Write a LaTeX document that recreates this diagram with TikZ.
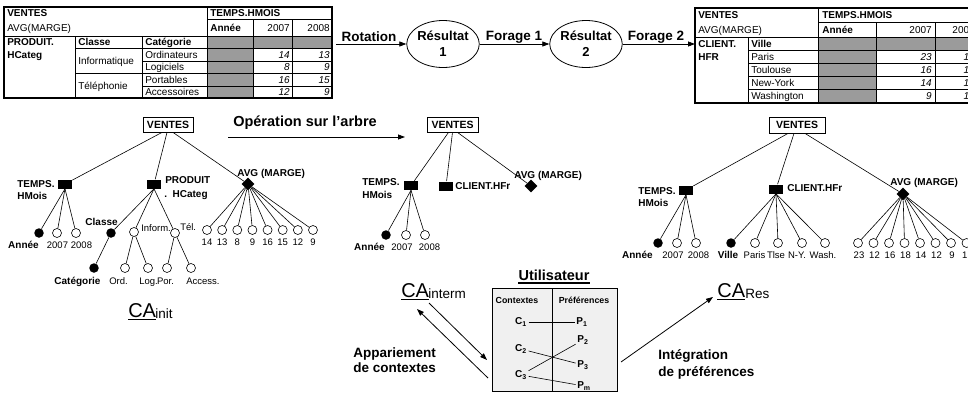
\documentclass[tikz,border=0pt]{standalone}
\usepackage{fontspec}
\setmainfont{Liberation Sans}
\usetikzlibrary{shapes.geometric,arrows.meta}
\definecolor{cellgray}{RGB}{155,155,155}
\definecolor{boxgray}{RGB}{240,240,240}
\tikzset{
  tb/.style={font=\fontsize{10}{12}\selectfont\bfseries, inner sep=0pt, anchor=base west},
  tr/.style={font=\fontsize{10}{12}\selectfont, inner sep=0pt, anchor=base west},
  tn/.style={font=\fontsize{10}{12}\selectfont\itshape, inner sep=0pt, anchor=base east},
  tre/.style={font=\fontsize{10}{12}\selectfont, inner sep=0pt, anchor=base east},
  fl/.style={font=\fontsize{13.5}{15}\selectfont\bfseries, inner sep=0pt},
  ell/.style={ellipse, draw, line width=0.8pt, minimum width=65pt, minimum height=47pt, inner sep=0pt, align=center, font=\fontsize{13}{16}\selectfont\bfseries},
  vbox/.style={draw, line width=0.8pt, minimum height=15pt, inner sep=0pt, font=\fontsize{10.5}{12}\selectfont\bfseries},
  sq/.style={fill=black, minimum width=14pt, minimum height=9pt, inner sep=0pt},
  dia/.style={diamond, fill=black, minimum width=13pt, minimum height=13pt, inner sep=0pt},
  oc/.style={circle, draw, fill=white, line width=0.6pt, minimum size=9pt, inner sep=0pt},
  bc/.style={circle, fill=black, minimum size=9.5pt, inner sep=0pt},
  lb/.style={font=\fontsize{10}{11}\selectfont\bfseries, inner sep=0pt, anchor=base west},
  lbc/.style={font=\fontsize{10}{11}\selectfont\bfseries, inner sep=0pt, anchor=base},
  ln/.style={font=\fontsize{9.5}{11}\selectfont, inner sep=0pt, anchor=base},
  lr/.style={font=\fontsize{9.5}{11}\selectfont, inner sep=0pt, anchor=base west},
  bigl/.style={font=\fontsize{13.5}{15}\selectfont\bfseries, inner sep=0pt, anchor=base west},
  cabig/.style={font=\fontsize{20}{22}\selectfont, inner sep=0pt, anchor=base west},
  casub/.style={font=\fontsize{13.5}{15}\selectfont, inner sep=0pt, anchor=base west},
  cp/.style={font=\fontsize{10}{12}\selectfont\bfseries, inner sep=1.5pt},
  hd/.style={font=\fontsize{8.8}{10}\selectfont\bfseries, inner sep=0pt, anchor=base},
  arr/.style={-{Triangle[length=7pt,width=5pt]}, line width=0.8pt},
}
\begin{document}
\begin{tikzpicture}[x=1pt,y=-1pt,line width=0.6pt]
\useasboundingbox (0,0) rectangle (968,400);
\fill[white] (0,0) rectangle (968,400);
\clip (0,0) rectangle (968,400);

% ---------------- left table ----------------
\fill[cellgray] (207,36) rectangle (253,98);
\fill[cellgray] (253,36) rectangle (332,48);
\draw (207,19) -- (332,19);
\draw (4,36) -- (332,36);
\draw (75,48) -- (332,48);
\draw (142,61) -- (332,61);
\draw (75,73) -- (332,73);
\draw (142,86) -- (332,86);
\draw (207,7) -- (207,98);
\draw (253,19) -- (253,98);
\draw (292,19) -- (292,98);
\draw (75,36) -- (75,98);
\draw (142,36) -- (142,98);
\draw[line width=1.2pt] (4,7) rectangle (332,98);
\node[tb] (lt1) at (7,16.5) {VENTES};
\node[tr] (lt2) at (7,31) {AVG(MARGE)};
\node[tb] (lt3) at (210,16.5) {TEMPS.HMOIS};
\node[tb] (lt4) at (210,31) {Année};
\node[tre] (lt5) at (290,31) {2007};
\node[tre] (lt6) at (330,31) {2008};
\node[tb] (lt7) at (7,45.5) {PRODUIT.};
\node[tb] (lt8) at (7,58) {HCateg};
\node[tb] (lt9) at (78,45.5) {Classe};
\node[tb] (lt10) at (145,45.5) {Catégorie};
\node[tr] (lt11) at (78,64.5) {Informatique};
\node[tr] (lt12) at (78,89.5) {Téléphonie};
\node[tr] (lt13) at (145,58) {Ordinateurs};
\node[tr] (lt14) at (145,70.5) {Logiciels};
\node[tr] (lt15) at (145,83) {Portables};
\node[tr] (lt16) at (145,95.5) {Accessoires};
\node[tn] (lv1) at (290,58) {14};   \node[tn] (lw1) at (330,58) {13};
\node[tn] (lv2) at (290,70.5) {8};  \node[tn] (lw2) at (330,70.5) {9};
\node[tn] (lv3) at (290,83) {16};   \node[tn] (lw3) at (330,83) {15};
\node[tn] (lv4) at (290,95.5) {12}; \node[tn] (lw4) at (330,95.5) {9};

% ---------------- right table ----------------
\fill[cellgray] (818,37) rectangle (876,103);
\fill[cellgray] (876,37) rectangle (1000,50);
\draw (818,22) -- (1000,22);
\draw (695,37) -- (1000,37);
\draw (748,50) -- (1000,50);
\draw (748,63) -- (1000,63);
\draw (748,76) -- (1000,76);
\draw (748,89) -- (1000,89);
\draw (818,8) -- (818,103);
\draw (876,22) -- (876,103);
\draw (935,22) -- (935,103);
\draw (748,37) -- (748,103);
\draw[line width=1.2pt] (695,8) rectangle (1000,103);
\node[tb] (rt1) at (698,18.6) {VENTES};
\node[tr] (rt2) at (698,33) {AVG(MARGE)};
\node[tb] (rt3) at (822,18.6) {TEMPS.HMOIS};
\node[tb] (rt4) at (822,33) {Année};
\node[tre] (rt5) at (932,33) {2007};
\node[tre] (rt6) at (975,33) {2008};
\node[tb] (rt7) at (698,47) {CLIENT.};
\node[tb] (rt8) at (698,60) {HFR};
\node[tb] (rt9) at (751,47) {Ville};
\node[tr] (rt10) at (751,60) {Paris};
\node[tr] (rt11) at (751,73) {Toulouse};
\node[tr] (rt12) at (751,86) {New-York};
\node[tr] (rt13) at (751,99.5) {Washington};
\node[tn] (rv1) at (932,60) {23};   \node[tn] (rw1) at (975,60) {12};
\node[tn] (rv2) at (932,73) {16};   \node[tn] (rw2) at (975,73) {18};
\node[tn] (rv3) at (932,86) {14};   \node[tn] (rw3) at (975,86) {12};
\node[tn] (rv4) at (932,99.5) {9};  \node[tn] (rw4) at (975,99.5) {15};

% ---------------- flow row ----------------
\coordinate (rs) at (336,44);
\coordinate (rt) at (695,44);
\node[ell] (r1) at (443,44) {Résultat\\1};
\node[ell] (r2) at (586,44) {Résultat\\2};
\draw[arr] (rs) -- (r1);
\draw[arr] (r1) -- (r2);
\draw[arr] (r2) -- (rt);
\node[fl] (f0) at (369,37) {Rotation};
\node[fl] (f1) at (514,37) {Forage 1};
\node[fl] (f2) at (656,37) {Forage 2};

\coordinate (os) at (228,137);
\coordinate (oe) at (405,137);
\draw[arr] (os) -- (oe);
\node[font=\fontsize{14.5}{16}\selectfont\bfseries, inner sep=0pt] (op) at (305,123) {Opération sur l’arbre};

% ---------------- left tree ----------------
\node[vbox, minimum width=50pt] (v1) at (168,124.5) {VENTES};
\node[sq] (t1) at (65,184) {};
\node[sq] (p1) at (154,184) {};
\node[dia] (a1) at (248,184) {};
\draw ([xshift=-6pt]v1.south) -- (t1);
\draw ([xshift=-1pt]v1.south) -- (p1);
\draw ([xshift=5pt]v1.south) -- (a1);
\node[lb] (t1l1) at (17,187.5) {TEMPS.};
\node[lb] (t1l2) at (17,199.5) {HMois};
\node[lb] (p1l1) at (165,183.5) {PRODUIT};
\node[lb] (p1l2) at (164,197.5) {.\ \ HCateg};
\node[lb] (a1l) at (237,176.5) {AVG (MARGE)};
\node[bc] (t1a) at (39,233) {};
\node[oc] (t1b) at (57,233) {};
\node[oc] (t1c) at (76,233) {};
\foreach \n in {t1a,t1b,t1c} \draw (t1.south) -- (\n);
\node[lbc] (t1al) at (23.5,248.4) {Année};
\node[ln] (t1bl) at (57.5,248.4) {2007};
\node[ln] (t1cl) at (81.5,248.4) {2008};
\node[bc] (cl) at (111,233) {};
\node[oc] (inf) at (134,232) {};
\node[oc] (tel) at (175,233) {};
\foreach \n in {cl,inf,tel} \draw (p1.south) -- (\n);
\node[lb, anchor=base east] (cll) at (118,225.4) {Classe};
\node[lr] (infl) at (141,231.4) {Inform.};
\node[lr] (tell) at (180,230.4) {Tél.};
\node[bc] (cat) at (94,268) {};
\node[oc] (ord) at (125,268) {};
\node[oc] (log) at (148,268) {};
\node[oc] (por) at (167,268) {};
\node[oc] (acc) at (191,268) {};
\draw (cl) -- (cat);
\draw (inf) -- (ord);
\draw (inf) -- (log);
\draw (tel) -- (por);
\draw (tel) -- (acc);
\node[lbc] (catl) at (77.5,284.4) {Catégorie};
\node[ln] (ordl) at (118.5,284.4) {Ord.};
\node[ln] (logl) at (148.5,284.4) {Log.};
\node[ln] (porl) at (165.5,284.4) {Por.};
\node[ln] (accl) at (203,284.4) {Access.};
\foreach \v [count=\i from 0] in {14,13,8,9,16,15,12,9} {
  \node[oc] (lm\i) at ({207+15.14*\i},230) {};
  \draw (a1) -- (lm\i);
  \node[ln] (lml\i) at ({207+15.14*\i},245.4) {\v};
}
\node[cabig] (ca1) at (128,317) {CA};
\node[casub] (ca1s) at (155,318.5) {init};
\draw[line width=1.2pt] ([yshift=-2.2pt]ca1.base west) -- ([yshift=-2.2pt]ca1.base east);

% ---------------- middle tree ----------------
\node[vbox, minimum width=51pt] (v2) at (452.5,124.5) {VENTES};
\node[sq] (t2) at (411,185.5) {};
\node[sq] (c2n) at (446,186) {};
\node[dia] (a2) at (531,186) {};
\draw ([xshift=-4pt]v2.south) -- (t2);
\draw (v2.south) -- (c2n);
\draw ([xshift=5pt]v2.south) -- (a2);
\node[lb] (t2l1) at (362,185.4) {TEMPS.};
\node[lb] (t2l2) at (362,198.4) {HMois};
\node[lb] (c2l) at (455,189.4) {CLIENT.HFr};
\node[lb] (a2l) at (514,178.4) {AVG (MARGE)};
\node[bc] (t2a) at (386,235) {};
\node[oc] (t2b) at (406,235) {};
\node[oc] (t2c) at (425,235) {};
\foreach \n in {t2a,t2b,t2c} \draw (t2.south) -- (\n);
\node[lbc] (t2al) at (369.5,250.4) {Année};
\node[ln] (t2bl) at (402,250.4) {2007};
\node[ln] (t2cl) at (429.5,250.4) {2008};

% ---------------- right tree ----------------
\node[vbox, minimum width=56pt, minimum height=16pt] (v3) at (797,125) {VENTES};
\node[sq] (t3) at (686,190) {};
\node[sq] (c3n) at (776,189) {};
\node[dia] (a3) at (903,194) {};
\draw ([xshift=-9pt]v3.south) -- (t3);
\draw ([xshift=-3pt]v3.south) -- (c3n);
\draw ([xshift=8pt]v3.south) -- (a3);
\node[lb] (t3l1) at (638,194.4) {TEMPS.};
\node[lb] (t3l2) at (638,206.4) {HMois};
\node[lb] (c3l) at (787,191.4) {CLIENT.HFr};
\node[lb] (a3l) at (890,185.4) {AVG (MARGE)};
\node[bc] (t3a) at (658,243) {};
\node[oc] (t3b) at (677,243) {};
\node[oc] (t3c) at (696,243) {};
\foreach \n in {t3a,t3b,t3c} \draw (t3.south) -- (\n);
\node[bc] (vi) at (731,243) {};
\node[oc] (pa) at (755,243) {};
\node[oc] (tl) at (778,243) {};
\node[oc] (ny) at (802,243) {};
\node[oc] (wa) at (825,243) {};
\foreach \n in {vi,pa,tl,ny,wa} \draw (c3n.south) -- (\n);
\node[lb, anchor=base east] (t3al) at (653,258.4) {Année};
\node[ln] (t3bl) at (673,258.4) {2007};
\node[ln] (t3cl) at (698.5,258.4) {2008};
\node[lbc] (vil) at (728,258.4) {Ville};
\node[ln] (pal) at (754.5,258.4) {Paris};
\node[ln] (tll) at (776,258.4) {Tlse};
\node[ln] (nyl) at (797,258.4) {N-Y.};
\node[ln] (wal) at (823,258.4) {Wash.};
\foreach \v [count=\i from 0] in {23,12,16,18,14,12,9,15} {
  \node[oc] (rm\i) at ({858+15.5*\i},243) {};
  \draw (a3) -- (rm\i);
  \node[ln] (rml\i) at ({859+15.5*\i},258.4) {\v};
}

% ---------------- bottom: user ----------------
\node[font=\fontsize{14.5}{16}\selectfont\bfseries, inner sep=0pt, anchor=base] (ut) at (554,280.5) {Utilisateur};
\draw[line width=1.2pt] ([yshift=-2.5pt]ut.base west) -- ([yshift=-2.5pt]ut.base east);
\draw[fill=boxgray, line width=0.8pt] (492,288) rectangle (617,391);
\draw[line width=0.8pt] (552,288) -- (552,391);
\node[hd] (hc) at (517,303.2) {Contextes};
\node[hd] (hp) at (584,303.2) {Préférences};
\node[cp] (c1) at (521,322) {C\textsubscript{1}};
\node[cp] (c2) at (521,349) {C\textsubscript{2}};
\node[cp] (c3) at (521,375) {C\textsubscript{3}};
\node[cp] (pp1) at (582,322) {P\textsubscript{1}};
\node[cp] (pp2) at (583,340) {P\textsubscript{2}};
\node[cp] (pp3) at (583,365) {P\textsubscript{3}};
\node[cp] (ppm) at (584,386) {P\textsubscript{m}};
\draw (c1) -- (pp1);
\draw (c2) -- (pp3);
\draw (c3) -- (pp2);
\draw (c3) -- (ppm);

\node[cabig] (ca2) at (401,297) {CA};
\node[casub] (ca2s) at (428,298.5) {interm};
\draw[line width=1.2pt] ([yshift=-2.2pt]ca2.base west) -- ([yshift=-2.2pt]ca2.base east);
\node[cabig] (ca3) at (717,297) {CA};
\node[casub] (ca3s) at (745,298.5) {Res};
\draw[line width=1.2pt] ([yshift=-2.2pt]ca3.base west) -- ([yshift=-2.2pt]ca3.base east);

\coordinate (ar1s) at (429,303);
\coordinate (ar1e) at (487,360);
\coordinate (ar2s) at (488,378);
\coordinate (ar2e) at (417,309);
\coordinate (ar3s) at (621,362);
\coordinate (ar3e) at (713,297);
\draw[arr] (ar1s) -- (ar1e);
\draw[arr] (ar2s) -- (ar2e);
\draw[arr] (ar3s) -- (ar3e);
\node[bigl] (apl1) at (353,357) {Appariement};
\node[bigl] (apl2) at (353,372) {de contextes};
\node[bigl] (inl1) at (658,359) {Intégration};
\node[bigl] (inl2) at (658,376) {de préférences};
\end{tikzpicture}
\end{document}
